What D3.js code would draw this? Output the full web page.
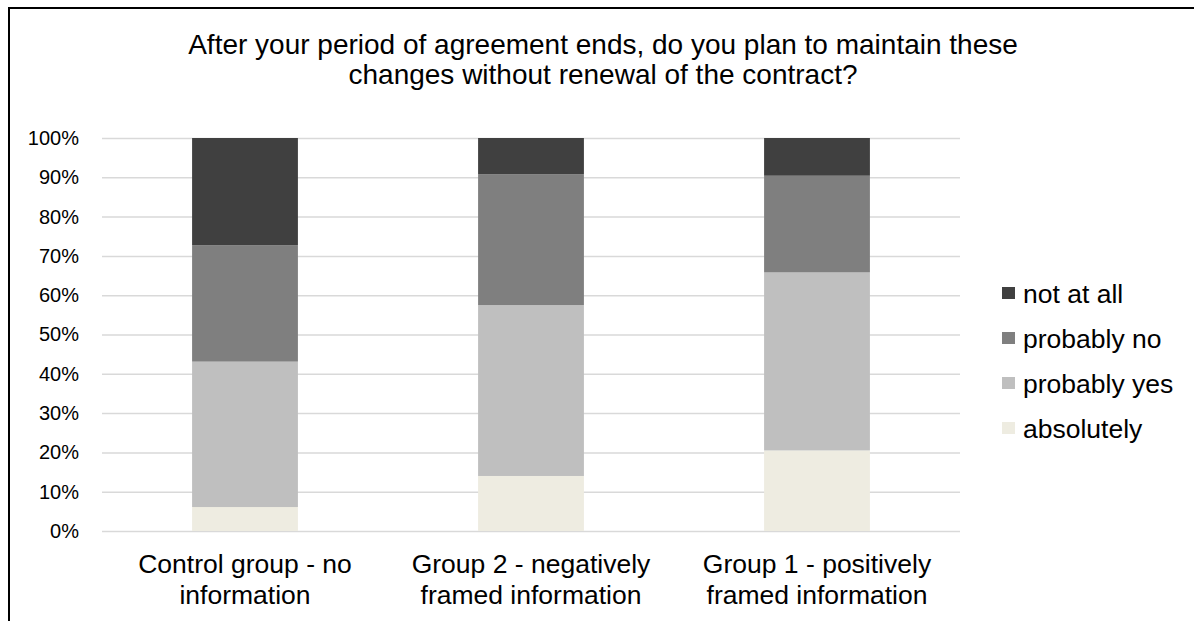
<!DOCTYPE html>
<html lang="en">
<head>
    <meta charset="UTF-8">
    <title>Plan to maintain changes</title>
    <script src="https://d3js.org/d3.v7.min.js"></script>
    <style>
        body { margin: 0; background: #fff; }
        text { font-family: "Liberation Sans", Arial, sans-serif; fill: #000; }
    </style>
</head>
<body>
<svg id="main" width="1194" height="621"></svg>
<script>
    // data (percent of respondents)
    const categories = ['Control group - no|information', 'Group 2 - negatively|framed information', 'Group 1 - positively|framed information'];
    const keys = ['absolutely', 'probably yes', 'probably no', 'not at all'];
    const absolutely = [6.1, 14.0, 20.5];
    const probablyYes = [37.0, 43.5, 45.3];
    const probablyNo = [29.6, 33.3, 24.6];
    const notAtAll = [27.3, 9.2, 9.6];
    const yTicks = [0, 10, 20, 30, 40, 50, 60, 70, 80, 90, 100];
    const titleLines = ['After your period of agreement ends, do you plan to maintain these', 'changes without renewal of the contract?'];

    const colors = ['#eeece1', '#bfbfbf', '#7f7f7f', '#404040'];

    let svg = d3.select('svg#main');

    // outer frame (cut off on the right and bottom like the source)
    svg.append('path')
        .attr('d', 'M9,700 V8 H1200')
        .attr('fill', 'none')
        .attr('stroke', '#000')
        .attr('stroke-width', 2);

    // title
    svg.append('g').selectAll('text')
        .data(titleLines)
        .join('text')
        .attr('x', 603)
        .attr('y', (d, i) => 54 + i * 30)
        .attr('text-anchor', 'middle')
        .style('font-size', '28px')
        .text(d => d);

    let data = categories.map((c, i) => ({
        cat: c,
        'absolutely': absolutely[i],
        'probably yes': probablyYes[i],
        'probably no': probablyNo[i],
        'not at all': notAtAll[i]
    }));
    let series = d3.stack().keys(keys)(data);

    let xScale = d3.scaleBand()
        .domain(categories)
        .range([102, 960])
        .paddingInner(0.63)
        .paddingOuter(0.315);
    let yScale = d3.scaleLinear()
        .domain([0, 100])
        .range([531, 138]);

    // gridlines + y labels
    let yAxis = svg.append('g')
        .attr('transform', 'translate(102,0)')
        .call(d3.axisLeft(yScale).tickValues(yTicks).tickSize(-858).tickPadding(23).tickFormat(d => d + '%'));
    yAxis.select('.domain').remove();
    yAxis.selectAll('line').attr('stroke', '#d9d9d9').attr('stroke-width', 1.5);
    yAxis.selectAll('text').style('font-size', '20px').attr('fill', '#000');

    // bars
    svg.append('g').selectAll('g')
        .data(series)
        .join('g')
        .attr('fill', (d, i) => colors[i])
        .selectAll('rect')
        .data(d => d)
        .join('rect')
        .attr('x', d => xScale(d.data.cat))
        .attr('y', d => yScale(d[1]))
        .attr('width', xScale.bandwidth())
        .attr('height', d => yScale(d[0]) - yScale(d[1]));

    // category labels (two lines each)
    let catG = svg.append('g').selectAll('text')
        .data(categories)
        .join('text')
        .attr('x', d => xScale(d) + xScale.bandwidth() / 2)
        .attr('text-anchor', 'middle')
        .style('font-size', '26.5px');
    catG.selectAll('tspan')
        .data(d => d.split('|'))
        .join('tspan')
        .attr('x', function () { return this.parentNode.getAttribute('x'); })
        .attr('y', (d, i) => 573 + i * 31)
        .text(d => d);

    // legend, top to bottom in reverse stack order
    let legendKeys = keys.slice().reverse();
    let legend = svg.append('g').selectAll('g')
        .data(legendKeys)
        .join('g')
        .attr('transform', (d, i) => 'translate(1002,' + (293 + i * 45) + ')');
    legend.append('rect')
        .attr('x', 0).attr('y', -6)
        .attr('width', 13).attr('height', 12)
        .attr('fill', d => colors[keys.indexOf(d)]);
    legend.append('text')
        .attr('x', 21)
        .attr('y', 9.5)
        .style('font-size', '26.5px')
        .text(d => d);
</script>
</body>
</html>
